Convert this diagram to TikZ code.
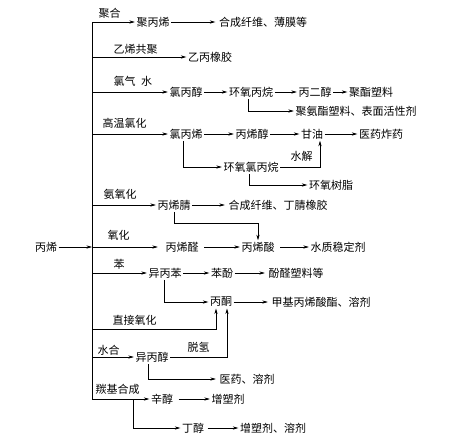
\documentclass[tikz,border=0pt]{standalone}
\usepackage{fontspec}
\newfontfamily\cjk{Noto Sans CJK SC}
\usetikzlibrary{arrows.meta}
\begin{document}
\begin{tikzpicture}[x=1pt,y=-1pt,
  every node/.style={font=\cjk\fontsize{11}{13}\selectfont,inner sep=1.5pt},
  item/.style={},
  lbl/.style={anchor=west},
  link/.style={line width=0.55pt},
  arr/.style={line width=0.55pt,-{Stealth[length=5.5pt,width=3.2pt]}}]
\useasboundingbox (0,0) rectangle (454,440);
% start node and trunk
\node[item] (bx) at (46,247) {丙烯};
\coordinate (r1) at (92,22);
\coordinate (r2) at (92,57);
\coordinate (r3) at (92,92);
\coordinate (r4) at (92,134);
\coordinate (r5) at (92,205);
\coordinate (r6) at (92,247);
\coordinate (r7) at (92,273);
\coordinate (r8) at (92,329);
\coordinate (r9) at (92,357);
\coordinate (r10) at (92,399);
\coordinate (k10) at (133,399);
\draw[link] (r1) -- (r10);
\draw[arr] (bx.east) -- (r6);
% row 1
\node[lbl] (l1) at (97,13) {聚合};
\node[item] (jbx) at (153,22) {聚丙烯};
\node[item] (hc1) at (263,22) {合成纤维、薄膜等};
\draw[arr] (r1) -- (jbx.west);
\draw[arr] (jbx.east) -- ([xshift=-2pt]hc1.west);
% row 2
\node[lbl] (l2) at (112,49) {乙烯共聚};
\node[item] (ybxj) at (210,57) {乙丙橡胶};
\draw[arr] (r2) -- (ybxj.west);
% row 3
\node[lbl] (l3) at (112,81) {氯气\hspace{0.5em}水};
\node[item] (lbc) at (186,92) {氯丙醇};
\node[item] (hwb) at (251,92) {环氧丙烷};
\node[item] (bec) at (315,92) {丙二醇};
\node[item] (jzsl) at (371,92) {聚酯塑料};
\node[item] (jaz) at (356,111) {聚氨酯塑料、表面活性剂};
\draw[arr] (r3) -- (lbc.west);
\draw[arr] (lbc.east) -- (hwb.west);
\draw[arr] (hwb.east) -- (bec.west);
\draw[arr] (bec.east) -- (jzsl.west);
\draw[arr] ([xshift=-3pt]hwb.south) |- (jaz.west);
% row 4
\node[lbl] (l4) at (101,123) {高温氯化};
\node[item] (lbx) at (186,134) {氯丙烯};
\node[item] (bxc) at (252,134) {丙烯醇};
\node[item] (gy) at (312,134) {甘油};
\node[item] (yyzy) at (381,134) {医药炸药};
\node[item] (hwl) at (251,167) {环氧氯丙烷};
\node[item] (hwsz) at (331,185) {环氧树脂};
\node[lbl] (l4b) at (289,156) {水解};
\draw[arr] (r4) -- (lbx.west);
\draw[arr] (lbx.east) -- (bxc.west);
\draw[arr] (bxc.east) -- (gy.west);
\draw[arr] (gy.east) -- (yyzy.west);
\draw[arr] ([xshift=-3pt]lbx.south) |- (hwl.west);
\draw[arr] (hwl.east) -| ([xshift=8pt]gy.south);
\draw[arr] ([xshift=-1.5pt]hwl.south) |- (hwsz.west);
% row 5
\node[lbl] (l5) at (102,194) {氨氧化};
\node[item] (bxq) at (174,205) {丙烯腈};
\node[item] (hc2) at (278,205) {合成纤维、丁腈橡胶};
\draw[arr] (r5) -- (bxq.west);
\draw[arr] (bxq.east) -- ([xshift=-2pt]hc2.west);
% row 6
\node[lbl] (l6) at (106,235) {氧化};
\node[item] (bxe) at (182,247) {丙烯醛};
\node[item] (bxs) at (258,247) {丙烯酸};
\node[item] (szw) at (338,247) {水质稳定剂};
\draw[arr] (r6) -- ([xshift=-6pt]bxe.west);
\draw[arr] ([xshift=4pt]bxe.east) -- (bxs.west);
\draw[arr] ([xshift=4pt]bxs.east) -- (szw.west);
\draw[arr] (bxq.south) -- ++(0,12) -| (bxs.north);
% row 7
\node[lbl] (l7) at (112,264) {苯};
\node[item] (ybb) at (165,273) {异丙苯};
\node[item] (bf) at (222,273) {苯酚};
\node[item] (fq) at (296,273) {酚醛塑料等};
\node[item] (bt) at (221,302) {丙酮};
\node[item] (jjb) at (321,302) {甲基丙烯酸酯、溶剂};
\draw[arr] (r7) -- (ybb.west);
\draw[arr] (ybb.east) -- (bf.west);
\draw[arr] (bf.east) -- ([xshift=-2pt]fq.west);
\draw[arr] ([xshift=-1pt]ybb.south) |- (bt.west);
\draw[arr] (bt.east) -- ([xshift=-2pt]jjb.west);
% row 8
\node[lbl] (l8) at (111,320) {直接氧化};
\draw[arr] (r8) -| ([xshift=-5pt]bt.south);
% row 9
\node[lbl] (l9) at (96,350) {水合};
\node[item] (ybc) at (152,357) {异丙醇};
\node[lbl] (l9b) at (186,347) {脱氢};
\node[item] (yyrj) at (247,379) {医药、溶剂};
\draw[arr] (r9) -- (ybc.west);
\draw[arr] (ybc.east) -| ([xshift=6pt]bt.south);
\draw[arr] ([xshift=-4pt]ybc.south) |- ([xshift=-2pt]yyrj.west);
% row 10
\node[lbl] (l10) at (94,389) {羰基合成};
\node[item] (xc) at (162,399) {辛醇};
\node[item] (zsj) at (228,399) {增塑剂};
\node[item] (dc) at (193,428) {丁醇};
\node[item] (zsr) at (273,428) {增塑剂、溶剂};
\draw[arr] (r10) -- (xc.west);
\draw[arr] ([xshift=4pt]xc.east) -- (zsj.west);
\draw[arr] (k10) |- (dc.west);
\draw[arr] ([xshift=2pt]dc.east) -- (zsr.west);
\end{tikzpicture}
\end{document}
